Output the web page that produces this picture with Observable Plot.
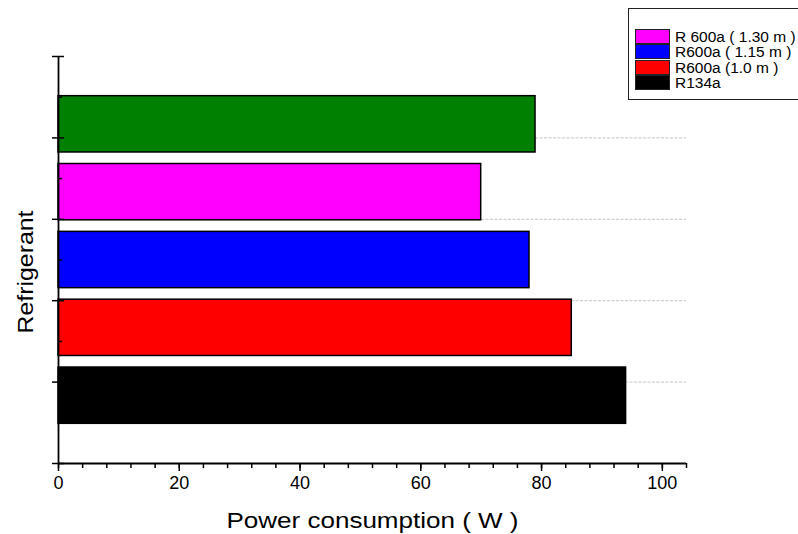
<!DOCTYPE html>
<html>
<head>
<meta charset="utf-8">
<script src="https://cdn.jsdelivr.net/npm/d3@7"></script>
<script src="https://cdn.jsdelivr.net/npm/@observablehq/plot@0.6"></script>
<style>
  body { margin: 0; background: #fff; }
  #wrap { position: relative; width: 798px; height: 534px; overflow: hidden; font-family: "Liberation Sans", Arial, sans-serif; }
  #legend { position: absolute; left: 628px; top: 8px; width: 180px; height: 92px; border: 1px solid #222; box-sizing: border-box; background: #fff; }
  .row { position: absolute; left: 6px; height: 15px; line-height: 15px; display: flex; align-items: center; white-space: nowrap; font-size: 15.5px; color: #000; }
  .sw { width: 33px; height: 13px; border: 1px solid #222; margin-right: 5px; flex: none; }
</style>
</head>
<body>
<div id="wrap"><div id="legend"></div></div>
<script>
// Data (bottom to top)
const categories = ["R134a", "R600a (1.0 m )", "R600a ( 1.15 m )", "R 600a ( 1.30 m )", "Unlabelled"];
const power = [94, 85, 78, 70, 79];
const colors = ["#000000", "#ff0000", "#0000ff", "#ff00ff", "#008000"];
const legendOrder = ["R 600a ( 1.30 m )", "R600a ( 1.15 m )", "R600a (1.0 m )", "R134a"];
const legendColors = ["#ff00ff", "#0000ff", "#ff0000", "#000000"];
const xTickLabels = [0, 20, 40, 60, 80, 100];
const xLabel = "Power consumption ( W )";
const yLabel = "Refrigerant";

const table = categories.map((c, i) => ({category: c, power: power[i], pos: i + 1}));

const xMax = 104;
const yMax = categories.length + 1;
const yIntervals = 5;
const yMajor = d3.range(yIntervals + 1).map(k => k * yMax / yIntervals);
const yMinor = d3.range(yIntervals).map(k => (k + 0.5) * yMax / yIntervals);
const gridY = yMajor.slice(1, -1);
const xMinor = d3.range(0, xMax + 0.001, 4);
const half = 0.415;

const chart = Plot.plot({
  width: 798,
  height: 534,
  marginLeft: 58,
  marginRight: 112,
  marginTop: 56,
  marginBottom: 71,
  style: {fontFamily: "'Liberation Sans', Arial, sans-serif", background: "#fff", color: "#000"},
  x: {domain: [0, xMax], nice: false},
  y: {domain: [0, yMax], nice: false},
  color: {domain: categories, range: colors},
  marks: [
    Plot.ruleY(gridY, {stroke: "#c4c4c4", strokeDasharray: "3,1.5", strokeWidth: 1}),
    Plot.rect(table, {x1: 0, x2: "power", y1: d => d.pos - half, y2: d => d.pos + half, fill: "category", stroke: "#000", strokeWidth: 1.5}),
    Plot.ruleX([0], {stroke: "#000", strokeWidth: 1.8}),
    Plot.ruleY([0], {stroke: "#000", strokeWidth: 1.8}),
    Plot.axisX({ticks: xMinor, tickSize: 5, tickFormat: () => "", label: null, strokeWidth: 1.5}),
    Plot.axisX({ticks: xTickLabels, tickSize: 8, tickPadding: 5, fontSize: 18, label: null, strokeWidth: 1.5}),
    Plot.axisY({ticks: yMajor, tickSize: 6, tickFormat: () => "", label: null, strokeWidth: 1.5}),
    Plot.axisY({ticks: yMajor, tickSize: 6, dx: 6, tickFormat: () => "", label: null, strokeWidth: 1.5}),
    Plot.axisY({ticks: yMinor, tickSize: 4, dx: 4, tickFormat: () => "", label: null, strokeWidth: 1.5}),
    Plot.text([xLabel], {frameAnchor: "bottom", dy: 64, lineAnchor: "bottom", textAnchor: "middle", fontSize: 22, fill: "#000"}),
    Plot.text([yLabel], {frameAnchor: "left", dx: -33, dy: 12, rotate: -90, textAnchor: "middle", lineAnchor: "middle", fontSize: 22, fill: "#000"})
  ]
});

// Stretch the axis titles horizontally to the reference's text widths
d3.select(chart).selectAll("text")
  .filter(function () { return this.textContent === xLabel; })
  .attr("textLength", 292).attr("lengthAdjust", "spacingAndGlyphs");
d3.select(chart).selectAll("text")
  .filter(function () { return this.textContent === yLabel; })
  .attr("textLength", 123).attr("lengthAdjust", "spacingAndGlyphs");

const wrap = document.getElementById("wrap");
wrap.insertBefore(chart, wrap.firstChild);

const legend = document.getElementById("legend");
legendOrder.forEach((name, i) => {
  const row = document.createElement("div");
  row.className = "row";
  row.style.top = (20 + i * 15.4) + "px";
  const sw = document.createElement("div");
  sw.className = "sw";
  sw.style.background = legendColors[i];
  const t = document.createElement("span");
  t.textContent = name;
  row.appendChild(sw);
  row.appendChild(t);
  legend.appendChild(row);
});
</script>
</body>
</html>
